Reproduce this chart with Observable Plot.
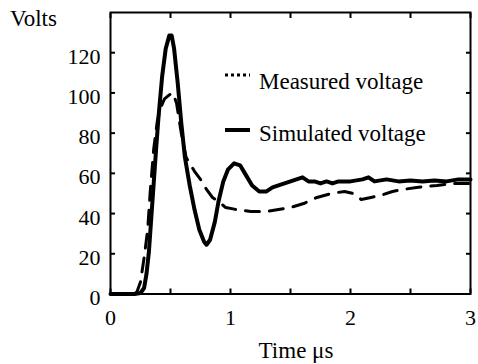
<!DOCTYPE html>
<html>
<head>
<meta charset="utf-8">
<script src="https://cdn.jsdelivr.net/npm/d3@7"></script>
<script src="https://cdn.jsdelivr.net/npm/@observablehq/plot@0.6"></script>
<style>
  body { margin: 0; background: white; }
  #chart svg { display: block; }
</style>
</head>
<body>
<div id="chart"></div>
<script>
// Simulated voltage (thick solid line)
const simTime = [0, 0.1, 0.2, 0.25, 0.28, 0.30, 0.32, 0.34, 0.36, 0.38, 0.40, 0.43, 0.46, 0.49, 0.51, 0.53, 0.56, 0.59, 0.62, 0.66, 0.70, 0.74, 0.78, 0.80, 0.83, 0.87, 0.90, 0.94, 0.98, 1.03, 1.08, 1.13, 1.18, 1.24, 1.30, 1.35, 1.40, 1.45, 1.50, 1.55, 1.60, 1.65, 1.70, 1.75, 1.80, 1.85, 1.90, 2.00, 2.10, 2.15, 2.20, 2.30, 2.40, 2.50, 2.60, 2.70, 2.80, 2.90, 3.00];
const simVolts = [0, 0, 0, 0.5, 3, 10, 21, 38, 55, 72, 88, 108, 122, 128.5, 128.5, 122, 105, 85, 68, 54, 42, 32, 26, 24.5, 27, 36, 46, 56, 62, 65, 64, 59, 54, 51, 51, 53, 54, 55, 56, 57, 58, 56, 56, 55, 56, 55, 56, 56, 57, 58, 56, 57, 56, 56.5, 56, 56.5, 56, 57, 57];

// Measured voltage (dashed line)
const measTime = [0, 0.2, 0.22, 0.25, 0.28, 0.31, 0.33, 0.36, 0.39, 0.42, 0.45, 0.49, 0.52, 0.55, 0.59, 0.63, 0.67, 0.70, 0.75, 0.80, 0.85, 0.90, 0.96, 1.05, 1.17, 1.30, 1.40, 1.50, 1.61, 1.72, 1.84, 1.95, 2.02, 2.09, 2.17, 2.25, 2.35, 2.44, 2.55, 2.72, 2.85, 3.00];
const measVolts = [0, 0, 1, 6, 18, 32, 50, 72, 86, 93, 97, 99, 100, 95, 80, 68, 64, 61, 57, 52, 48, 46, 43, 42, 41, 41, 42, 43, 45, 48, 50, 51, 50, 47, 48, 49, 51, 52, 53, 54, 55, 55];

// Axes
const xTicks = [0, 0.5, 1, 1.5, 2, 2.5, 3];
const xTickLabels = [0, 1, 2, 3];
const yTicks = [0, 20, 40, 60, 80, 100, 120];

// Labels
const yLabel = "Volts";
const xLabel = "Time \u03bcs";
const legendNames = ["Measured voltage", "Simulated voltage"];

const simData = simTime.map((t, i) => ({t, v: simVolts[i]}));
const measData = measTime.map((t, i) => ({t, v: measVolts[i]}));

const fontFamily = "'Liberation Serif', 'Times New Roman', serif";

const chart = Plot.plot({
  width: 478,
  height: 364,
  marginLeft: 110,
  marginRight: 8,
  marginTop: 12,
  marginBottom: 70.5,
  style: { fontFamily, fontSize: "22px", color: "black", background: "white" },
  x: { domain: [0, 3] },
  y: { domain: [0, 140] },
  marks: [
    Plot.line(measData, { x: "t", y: "v", stroke: "black", strokeWidth: 3, strokeDasharray: "14,10", strokeLinejoin: "round" }),
    Plot.line(simData, { x: "t", y: "v", stroke: "black", strokeWidth: 4, strokeLinejoin: "round" }),
    Plot.axisX(xTicks, { anchor: "bottom", tickSize: -5, strokeWidth: 2, label: null, tickFormat: () => "" }),
    Plot.axisX(xTicks, { anchor: "top", tickSize: -5, strokeWidth: 2, label: null, tickFormat: () => "" }),
    Plot.axisY(yTicks, { anchor: "left", tickSize: -5, strokeWidth: 2, label: null, tickFormat: () => "" }),
    Plot.axisY(yTicks, { anchor: "right", tickSize: -5, strokeWidth: 2, label: null, tickFormat: () => "" }),
    Plot.text(yTicks, { y: d => d, text: d => String(d), frameAnchor: "left", textAnchor: "end", dx: -10, dy: 4,
      fontSize: 22, fontFamily, fill: "black" }),
    Plot.text(xTickLabels, { x: d => d, text: d => String(d), frameAnchor: "bottom", lineAnchor: "top", dy: 15,
      fontSize: 22, fontFamily, fill: "black" }),
    Plot.frame({ stroke: "black", strokeWidth: 2 })
  ]
});

document.getElementById("chart").appendChild(chart);

const svg = d3.select(chart);

// Axis titles and legend
const txt = svg.append("g").attr("font-family", fontFamily).attr("font-size", 23)
  .attr("fill", "black").attr("text-anchor", "start");
txt.append("text").attr("x", 10).attr("y", 26).text(yLabel);
txt.append("text").attr("x", 296).attr("y", 358).attr("text-anchor", "middle").text(xLabel);

const leg = svg.append("g");
leg.append("line").attr("x1", 225).attr("x2", 250).attr("y1", 75).attr("y2", 75)
  .attr("stroke", "black").attr("stroke-width", 3).attr("stroke-dasharray", "3,3");
leg.append("line").attr("x1", 225).attr("x2", 250).attr("y1", 130).attr("y2", 130)
  .attr("stroke", "black").attr("stroke-width", 4);
txt.append("text").attr("x", 259).attr("y", 89).text(legendNames[0]);
txt.append("text").attr("x", 259).attr("y", 141).text(legendNames[1]);
</script>
</body>
</html>
